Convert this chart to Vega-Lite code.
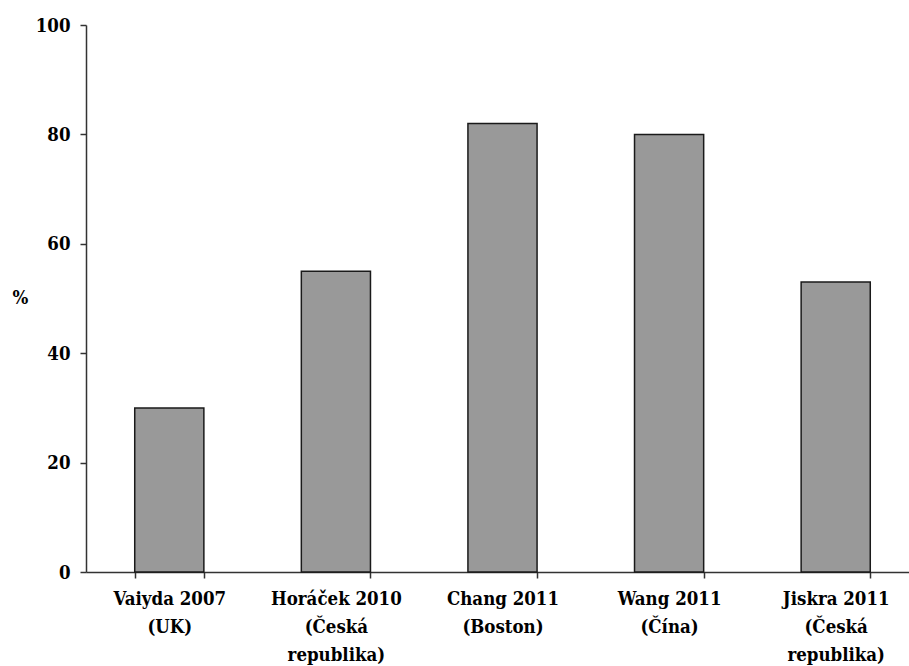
{
  "$schema": "https://vega.github.io/schema/vega-lite/v6.json",
  "autosize": {"type": "none"},
  "width": 823,
  "height": 547,
  "padding": {"left": 86, "top": 25, "right": 0, "bottom": 94},
  "background": "white",
  "config": {
    "view": {"stroke": null},
    "font": "DejaVu Serif Condensed",
    "axis": {
      "labelFont": "DejaVu Serif Condensed",
      "labelFontWeight": "bold",
      "labelFontSize": 18.5,
      "labelColor": "black",
      "titleFont": "DejaVu Serif Condensed",
      "titleFontWeight": "bold",
      "titleFontSize": 18.5,
      "titleColor": "black",
      "domainColor": "#333333",
      "domainWidth": 1.5,
      "tickColor": "#333333",
      "tickWidth": 1.5,
      "tickSize": 6,
      "grid": false
    }
  },
  "data": {
    "values": [
      {"study": "Vaiyda 2007|(UK)", "value": 30},
      {"study": "Horáček 2010|(Česká|republika)", "value": 55},
      {"study": "Chang 2011|(Boston)", "value": 82},
      {"study": "Wang 2011|(Čína)", "value": 80},
      {"study": "Jiskra 2011|(Česká|republika)", "value": 53}
    ]
  },
  "mark": {"type": "bar", "color": "#999999", "stroke": "#1a1a1a", "strokeWidth": 1.5},
  "encoding": {
    "x": {
      "field": "study",
      "type": "nominal",
      "sort": null,
      "scale": {"range": [0, 833], "paddingInner": 0.585, "paddingOuter": 0.2925},
      "axis": {
        "title": null,
        "labelAngle": 0,
        "labelExpr": "split(datum.label, '|')",
        "labelLineHeight": 28,
        "labelPadding": 11,
        "tickBand": "extent",
        "labelLimit": 0
      }
    },
    "y": {
      "field": "value",
      "type": "quantitative",
      "scale": {"domain": [0, 100], "nice": false},
      "axis": {
        "title": "%",
        "titleAngle": 0,
        "titleAlign": "center",
        "titleBaseline": "middle",
        "titleX": -66,
        "titleY": 272,
        "values": [0, 20, 40, 60, 80, 100],
        "labelPadding": 10
      }
    }
  }
}
